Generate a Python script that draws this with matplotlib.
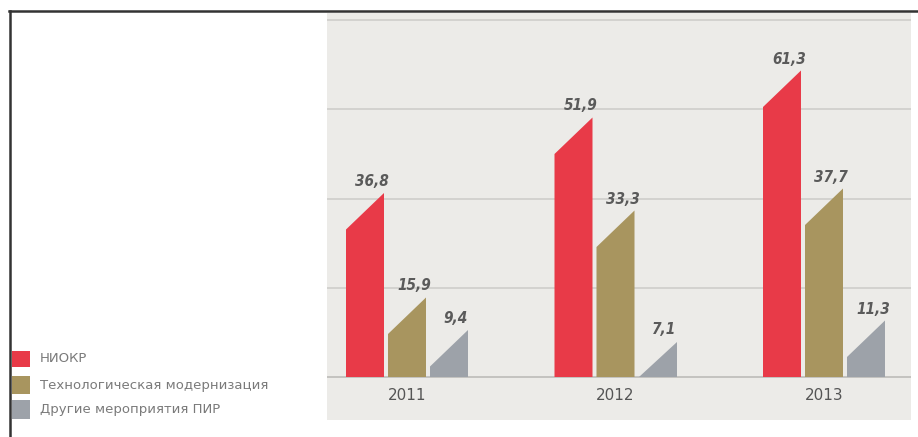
import matplotlib
matplotlib.use("Agg")
import matplotlib.pyplot as plt
from matplotlib.patches import Rectangle
from matplotlib.lines import Line2D

years = ["2011", "2012", "2013"]
series_names = ["НИОКР", "Технологическая модернизация", "Другие мероприятия ПИР"]
niokr = [36.8, 51.9, 61.3]
tech = [15.9, 33.3, 37.7]
other = [9.4, 7.1, 11.3]
value_labels = [["36,8", "51,9", "61,3"], ["15,9", "33,3", "37,7"], ["9,4", "7,1", "11,3"]]
colors = ["#e83a48", "#a8955f", "#9da2a9"]
grid_vals = [0, 17.85, 35.7, 53.55, 71.4]

W, H = 918, 437
fig = plt.figure(figsize=(W / 100, H / 100), dpi=100)
fig.patch.set_facecolor("white")

# panel axes (pixel bounds)
px_l, px_r, px_t, px_b = 327, 911, 13, 420
ax = fig.add_axes([px_l / W, 1 - px_b / H, (px_r - px_l) / W, (px_b - px_t) / H])
ax.set_facecolor("#ecebe8")
for s in ax.spines.values():
    s.set_visible(False)
ax.set_xticks([])
ax.set_yticks([])

ppu = 5.0  # pixels per unit
ax.set_ylim(-(px_b - 377) / ppu, (377 - px_t) / ppu)
step = 208.5
ax.set_xlim(-(407 - px_l) / step, (px_r - 407) / step)

for g in grid_vals:
    ax.axhline(g, color="#cfcecb" if g else "#bdbcb9", lw=1.2, zorder=1)

bw = 38 / step
off = 42 / step
slant = 7.3
series = [niokr, tech, other]
for si, vals in enumerate(series):
    for i, v in enumerate(vals):
        cx = i + (si - 1) * off
        x0, x1 = cx - bw / 2, cx + bw / 2
        left_top = max(v - slant, 0)
        ax.fill([x0, x1, x1, x0], [0, 0, v, left_top], color=colors[si], lw=0, zorder=2)
        ax.text(cx + 7 / step, v + 0.8, value_labels[si][i], ha="center", va="bottom",
                fontsize=11, fontweight="bold", fontstyle="italic", fontstretch="condensed",
                color="#5a5a5a", family=["DejaVu Sans"], zorder=3)

for i, y in enumerate(years):
    ax.text(i, -3.6, y, ha="center", va="center", fontsize=11, color="#555555")

# outer frame
fig.add_artist(Line2D([9 / W, 1], [1 - 11 / H, 1 - 11 / H], color="#333333", lw=1.8,
                      transform=fig.transFigure))
fig.add_artist(Line2D([10 / W, 10 / W], [0, 1 - 11 / H], color="#333333", lw=1.8,
                      transform=fig.transFigure))

# legend
rows = [(351, 367), (376, 394), (400, 419)]
for (y0, y1), c, name in zip(rows, colors, series_names):
    fig.patches.append(Rectangle((12 / W, 1 - y1 / H), 18 / W, (y1 - y0) / H,
                                 transform=fig.transFigure, facecolor=c, lw=0))
    fig.text(40 / W, 1 - (y0 + y1) / 2 / H, name, ha="left", va="center",
             fontsize=9.5, color="#7a7a7a")

fig.savefig("out.png", dpi=100)
